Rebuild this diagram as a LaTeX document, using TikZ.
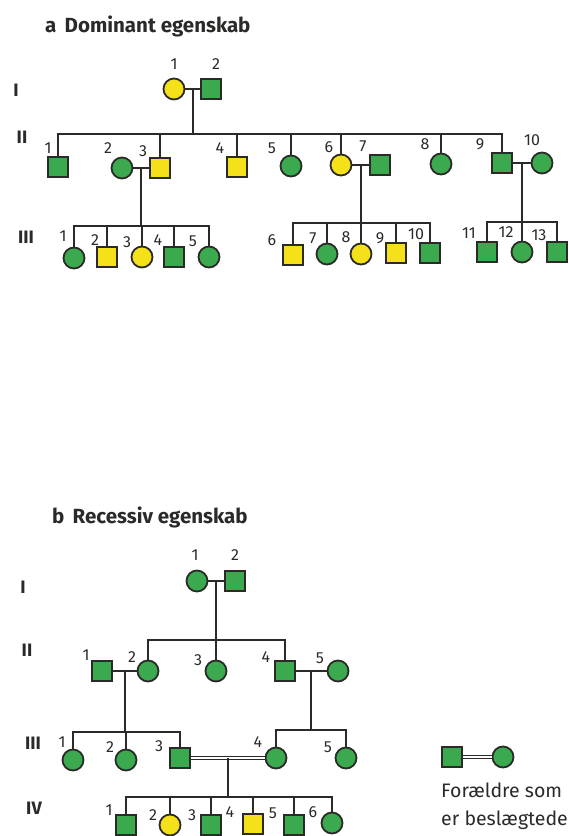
\documentclass[tikz,border=0pt]{standalone}
\usepackage{fontspec}
\setmainfont{Fira Sans}
\definecolor{gr}{HTML}{3BAA4F}
\definecolor{yl}{HTML}{F5E11A}
\definecolor{ink}{HTML}{2B2A29}
\begin{document}
\begin{tikzpicture}[x=1pt,y=-1pt,
  person/.style={draw=ink,line width=1.8pt,inner sep=0pt},
  fem/.style={person,circle,minimum size=21pt},
  mal/.style={person,rectangle,minimum size=20pt},
  aff/.style={fill=yl},
  una/.style={fill=gr},
  link/.style={draw=ink,line width=1.8pt},
  kin/.style={draw=ink,line width=1.2pt,double=white,double distance=1.8pt},
  num/.style={inner sep=0pt,text=ink,font=\fontsize{16}{16}\selectfont},
  gen/.style={inner sep=0pt,text=ink,font=\bfseries\fontsize{18}{18}\selectfont},
  ttl/.style={inner sep=0pt,anchor=base west,text=ink,font=\bfseries\fontsize{20.5}{20.5}\selectfont},
  note/.style={inner sep=0pt,anchor=base west,text=ink,font=\fontsize{19.5}{19.5}\selectfont}]
\useasboundingbox (0,0) rectangle (569,836);

% ---------------- a: dominant trait ----------------
\node[ttl] (ta) at (45,32) {a\, Dominant egenskab};
\node[gen] (gaI)   at (16,90)  {I};
\node[gen] (gaII)  at (22,137) {II};
\node[gen] (gaIII) at (26,237) {III};

% generation I
\node[fem,aff] (aI1) at (174,89) {};
\node[mal,una] (aI2) at (211,89) {};
\node[num] (naI1) at (174,64) {1};
\node[num] (naI2) at (216,64) {2};

% generation II
\node[mal,una] (aII1)  at (58,167)  {};
\node[fem,una] (aII2)  at (122,168) {};
\node[mal,aff] (aII3)  at (160,168) {};
\node[mal,aff] (aII4)  at (237,167) {};
\node[fem,una] (aII5)  at (291,166) {};
\node[fem,aff] (aII6)  at (341,165) {};
\node[mal,una] (aII7)  at (380,165) {};
\node[fem,una] (aII8)  at (441,164) {};
\node[mal,una] (aII9)  at (502,163) {};
\node[fem,una] (aII10) at (542,163) {};
\node[num] (naII1)  at (48,148)  {1};
\node[num] (naII2)  at (108,148) {2};
\node[num] (naII3)  at (143,151) {3};
\node[num] (naII4)  at (220,148) {4};
\node[num] (naII5)  at (272,148) {5};
\node[num] (naII6)  at (329,147) {6};
\node[num] (naII7)  at (363,146) {7};
\node[num] (naII8)  at (425,144) {8};
\node[num] (naII9)  at (480,144) {9};
\node[num] (naII10) at (532,140) {10};

% generation III
\node[fem,una] (aIII1)  at (74,258)  {};
\node[mal,aff] (aIII2)  at (107,257) {};
\node[fem,aff] (aIII3)  at (142,257) {};
\node[mal,una] (aIII4)  at (174,257) {};
\node[fem,una] (aIII5)  at (209,257) {};
\node[mal,aff] (aIII6)  at (293,255) {};
\node[fem,una] (aIII7)  at (327,254) {};
\node[fem,aff] (aIII8)  at (361,254) {};
\node[mal,aff] (aIII9)  at (396,253) {};
\node[mal,una] (aIII10) at (430,253) {};
\node[mal,una] (aIII11) at (487,252) {};
\node[fem,una] (aIII12) at (522,252) {};
\node[mal,una] (aIII13) at (557,252) {};
\node[num] (naIII1)  at (63,236)  {1};
\node[num] (naIII2)  at (95,240)  {2};
\node[num] (naIII3)  at (127,242) {3};
\node[num] (naIII4)  at (158,240) {4};
\node[num] (naIII5)  at (193,241) {5};
\node[num] (naIII6)  at (272,240) {6};
\node[num] (naIII7)  at (313,238) {7};
\node[num] (naIII8)  at (346,237) {8};
\node[num] (naIII9)  at (380,238) {9};
\node[num] (naIII10) at (416,234) {10};
\node[num] (naIII11) at (469,233) {11};
\node[num] (naIII12) at (506,232) {12};
\node[num] (naIII13) at (539,235) {13};

% matings and sibships
\coordinate (yaII) at (0,134);
\coordinate (yaIIIa) at (0,226);
\coordinate (yaIIIb) at (0,223);
\coordinate (yaIIIc) at (0,222);

\draw[link] (aI1) -- (aI2) coordinate[midway] (maI);
\coordinate (saII) at (maI |- yaII);
\draw[link] (maI) -- (saII);
\foreach \c in {aII1,aII3,aII4,aII5,aII6,aII8,aII9}
  \draw[link] (\c.north) |- (saII);

\draw[link] (aII2) -- (aII3) coordinate[midway] (maII23);
\coordinate (saIIIa) at (maII23 |- yaIIIa);
\draw[link] (maII23) -- (saIIIa);
\foreach \c in {aIII1,aIII2,aIII3,aIII4,aIII5}
  \draw[link] (\c.north) |- (saIIIa);

\draw[link] (aII6) -- (aII7) coordinate[midway] (maII67);
\coordinate (saIIIb) at (maII67 |- yaIIIb);
\draw[link] (maII67) -- (saIIIb);
\foreach \c in {aIII6,aIII7,aIII8,aIII9,aIII10}
  \draw[link] (\c.north) |- (saIIIb);

\draw[link] (aII9) -- (aII10) coordinate[midway] (maII910);
\coordinate (saIIIc) at (maII910 |- yaIIIc);
\draw[link] (maII910) -- (saIIIc);
\foreach \c in {aIII11,aIII12,aIII13}
  \draw[link] (\c.north) |- (saIIIc);

% ---------------- b: recessive trait ----------------
\node[ttl] (tb) at (52,523) {b\, Recessiv egenskab};
\node[gen] (gbI)   at (23,587) {I};
\node[gen] (gbII)  at (27,650) {II};
\node[gen] (gbIII) at (33,743) {III};
\node[gen] (gbIV)  at (34,808) {IV};

% generation I
\node[fem,una] (bI1) at (197,581) {};
\node[mal,una] (bI2) at (235,581) {};
\node[num] (nbI1) at (195,555) {1};
\node[num] (nbI2) at (235,555) {2};

% generation II
\node[mal,una] (bII1) at (102,671) {};
\node[fem,una] (bII2) at (148,671) {};
\node[fem,una] (bII3) at (216,671) {};
\node[mal,una] (bII4) at (285,671) {};
\node[fem,una] (bII5) at (338,671) {};
\node[num] (nbII1) at (86,655)  {1};
\node[num] (nbII2) at (132,657) {2};
\node[num] (nbII3) at (198,660) {3};
\node[num] (nbII4) at (266,657) {4};
\node[num] (nbII5) at (320,658) {5};

% generation III
\node[fem,una] (bIII1) at (73,760)  {};
\node[fem,una] (bIII2) at (126,760) {};
\node[mal,una] (bIII3) at (180,758) {};
\node[fem,una] (bIII4) at (276,758) {};
\node[fem,una] (bIII5) at (346,758) {};
\node[num] (nbIII1) at (62,742)  {1};
\node[num] (nbIII2) at (110,747) {2};
\node[num] (nbIII3) at (159,746) {3};
\node[num] (nbIII4) at (258,742) {4};
\node[num] (nbIII5) at (328,747) {5};

% generation IV
\node[mal,una] (bIV1) at (126,825) {};
\node[fem,aff] (bIV2) at (170,825) {};
\node[mal,una] (bIV3) at (211,825) {};
\node[mal,aff] (bIV4) at (253,824) {};
\node[mal,una] (bIV5) at (294,825) {};
\node[fem,una] (bIV6) at (332,823) {};
\node[num] (nbIV1) at (109,810) {1};
\node[num] (nbIV2) at (153,815) {2};
\node[num] (nbIV3) at (192,815) {3};
\node[num] (nbIV4) at (230,812) {4};
\node[num] (nbIV5) at (273,813) {5};
\node[num] (nbIV6) at (313,812) {6};

% matings and sibships
\coordinate (ybII) at (0,640);
\coordinate (ybIIIa) at (0,732);
\coordinate (ybIIIb) at (0,730);
\coordinate (ybIV) at (0,797);

\draw[link] (bI1) -- (bI2) coordinate[midway] (mbI);
\coordinate (sbII) at (mbI |- ybII);
\draw[link] (mbI) -- (sbII);
\foreach \c in {bII2,bII3,bII4}
  \draw[link] (\c.north) |- (sbII);

\draw[link] (bII1) -- (bII2) coordinate[midway] (mbII12);
\coordinate (sbIIIa) at (mbII12 |- ybIIIa);
\draw[link] (mbII12) -- (sbIIIa);
\foreach \c in {bIII1,bIII2,bIII3}
  \draw[link] (\c.north) |- (sbIIIa);

\draw[link] (bII4) -- (bII5) coordinate[midway] (mbII45);
\coordinate (sbIIIb) at (mbII45 |- ybIIIb);
\draw[link] (mbII45) -- (sbIIIb);
\foreach \c in {bIII4,bIII5}
  \draw[link] (\c.north) |- (sbIIIb);

\draw[kin] (bIII3) -- (bIII4) coordinate[midway] (mbIII34);
\coordinate (sbIV) at (mbIII34 |- ybIV);
\draw[link] (mbIII34) -- (sbIV);
\foreach \c in {bIV1,bIV2,bIV3,bIV4,bIV5,bIV6}
  \draw[link] (\c.north) |- (sbIV);

% legend: consanguineous parents
\node[mal,una] (lgm) at (452,757) {};
\node[fem,una] (lgf) at (503,757) {};
\draw[kin] (lgm) -- (lgf);
\node[note] (lg1) at (441,797) {Forældre som};
\node[note] (lg2) at (441,825) {er beslægtede};
\end{tikzpicture}
\end{document}
